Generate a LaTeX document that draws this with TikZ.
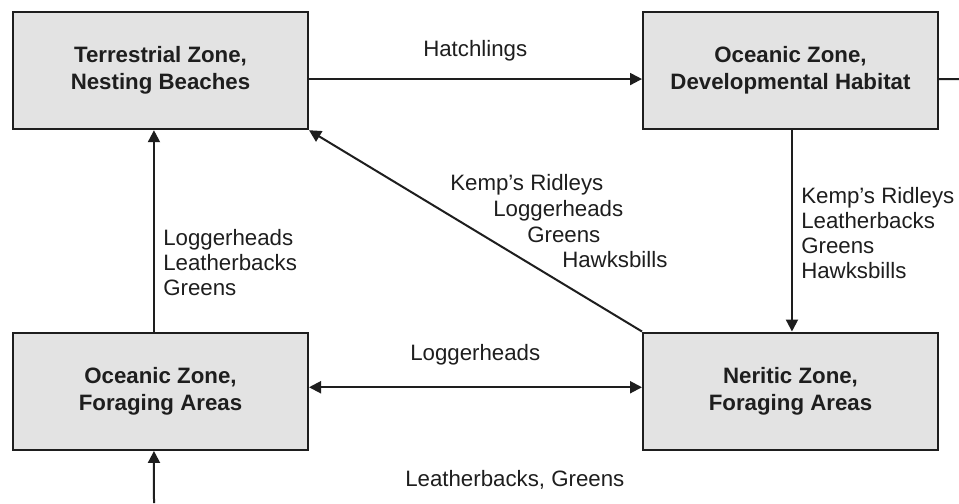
\documentclass[tikz,border=0pt]{standalone}
\usepackage{fontspec}
\setmainfont{Liberation Sans}
\usetikzlibrary{arrows.meta}
\definecolor{boxfill}{HTML}{E3E3E3}
\definecolor{ink}{HTML}{1E1E1E}
\tikzset{
  zone/.style={draw=ink, fill=boxfill, line width=1.5pt, rectangle,
    minimum width=221.25pt, minimum height=88.1pt, inner sep=0pt,
    align=center, text=ink, font=\fontsize{16.7}{20.25}\selectfont\bfseries},
  lbl/.style={inner sep=0pt, anchor=base west, text=ink,
    font=\fontsize{16.7}{19}\selectfont},
  conn/.style={draw=ink, line width=1.5pt, -{Triangle[length=9pt,width=9pt]}},
  plain/.style={draw=ink, line width=1.5pt}
}
\begin{document}
\begin{tikzpicture}[x=0.75pt, y=-0.75pt]
\useasboundingbox (0,0) rectangle (959,503);
\fill[white] (0,0) rectangle (959,503);

\node[zone] (T) at (160.5,70.5) {Terrestrial Zone,\\Nesting Beaches};
\node[zone] (D) at (790.5,70.5) {Oceanic Zone,\\Developmental Habitat};
\node[zone] (F) at (160.5,391.25) {Oceanic Zone,\\Foraging Areas};
\node[zone] (N) at (790.5,391.25) {Neritic Zone,\\Foraging Areas};

\coordinate (dout) at (959,79);
\coordinate (bin) at (154,503);

\draw[conn] ([yshift=-6.4pt]T.east) -- ([yshift=-6.4pt]D.west);
\draw[plain] ([yshift=-6.4pt]D.east) -- (dout);
\draw[conn] ([xshift=1.1pt]D.south) -- ([xshift=1.1pt]N.north);
\draw[conn] ([xshift=-4.9pt]F.north) -- ([xshift=-4.9pt]T.south);
\draw[conn, {Triangle[length=9pt,width=9pt]}-{Triangle[length=9pt,width=9pt]}] ([yshift=3pt]F.east) -- ([yshift=3pt]N.west);
\draw[conn] (N.north west) -- (T.south east);
\draw[conn] (bin) -- ([xshift=-4.9pt]F.south);

\node[lbl] (hatch) at (423,56) {Hatchlings};

\node[lbl] (dk) at (450,190) {Kemp’s Ridleys};
\node[lbl] (dl) at (493,216.5) {Loggerheads};
\node[lbl] (dg) at (527,242) {Greens};
\node[lbl] (dh) at (562,267) {Hawksbills};

\node[lbl] (ll) at (163,245) {Loggerheads};
\node[lbl] (lb) at (163,270) {Leatherbacks};
\node[lbl] (lg) at (163,295) {Greens};

\node[lbl] (rk) at (801,203) {Kemp’s Ridleys};
\node[lbl] (rb) at (801,228) {Leatherbacks};
\node[lbl] (rg) at (801,253) {Greens};
\node[lbl] (rh) at (801,278) {Hawksbills};

\node[lbl] (ml) at (410,360) {Loggerheads};
\node[lbl] (bl) at (405,486.5) {Leatherbacks, Greens};
\end{tikzpicture}
\end{document}
